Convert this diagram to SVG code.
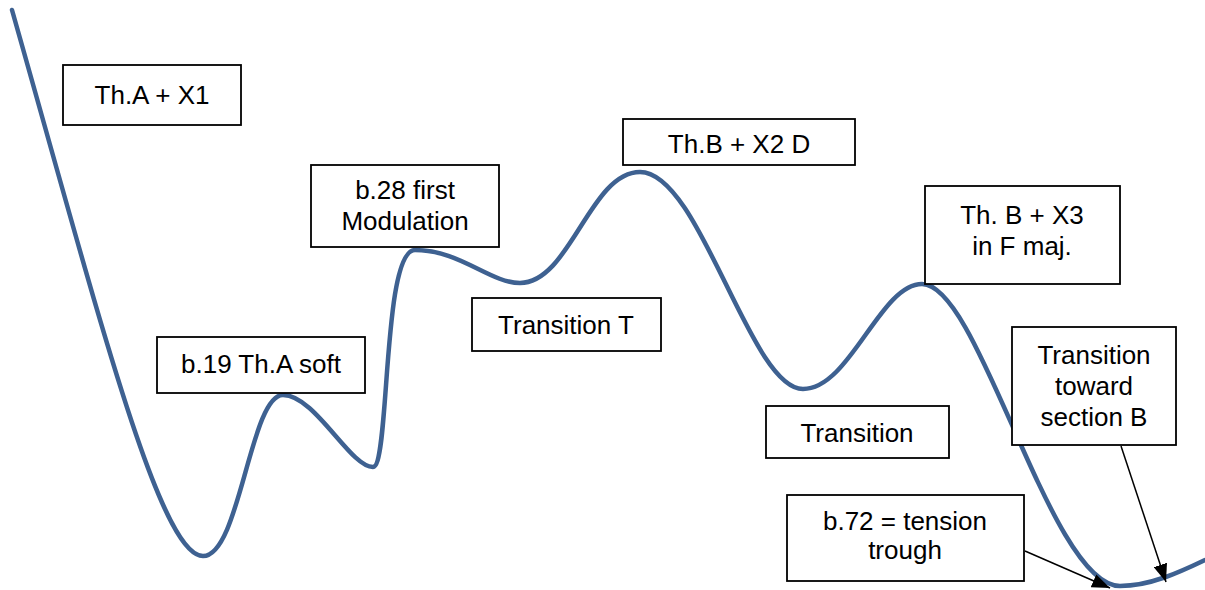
<svg xmlns="http://www.w3.org/2000/svg" width="1205" height="590" viewBox="0 0 1205 590">
<style>
.box{fill:#fff;stroke:#000;stroke-width:1.8}
.t{font-family:"Liberation Sans",Arial,sans-serif;font-size:26px;fill:#000;text-anchor:middle}
.curve{fill:none;stroke:#3E6191;stroke-width:4.5;stroke-linecap:round}
.arr{stroke:#000;stroke-width:1.5;fill:none}
</style>
<defs>
<marker id="ah2" viewBox="0 0 18 14" refX="18" refY="7" markerWidth="18" markerHeight="14" markerUnits="userSpaceOnUse" orient="auto">
<path d="M0,0 L18,7 L0,14 z" fill="#000"/>
</marker>
</defs>
<rect width="1205" height="590" fill="#fff"/>
<g id="curve">
<path class="curve" d="M12,10 C100,320 160,556 203,556 C240,556 250,395 283,395 C315,395 350,467 373,467 C390,467 382,250 415,250 C460,250 490,283 520,283 C570,283 590,172 640,172 C700,172 750,389 803,389 C850,389 880,284 922,284 C980,284 1050,586 1120,586 C1150,586 1180,572 1205,560"/>
</g>
<g id="connectors">
<line class="arr" x1="1025" y1="551" x2="1110" y2="588" marker-end="url(#ah2)"/>
<line class="arr" x1="1121" y1="446" x2="1166" y2="582" marker-end="url(#ah2)"/>
</g>
<g id="n1"><rect class="box" x="63" y="65" width="178" height="60"/><text class="t" x="152" y="104">Th.A + X1</text></g>
<g id="n2"><rect class="box" x="157" y="337" width="208" height="56"/><text class="t" x="261" y="373">b.19 Th.A soft</text></g>
<g id="n3"><rect class="box" x="311" y="165" width="188" height="82"/><text class="t" x="405" y="199">b.28 first</text><text class="t" x="405" y="230">Modulation</text></g>
<g id="n4"><rect class="box" x="472" y="298" width="189" height="53"/><text class="t" x="566" y="334">Transition T</text></g>
<g id="n5"><rect class="box" x="623" y="119" width="232" height="46"/><text class="t" x="739" y="153">Th.B + X2 D</text></g>
<g id="n6"><rect class="box" x="925" y="186" width="195" height="98"/><text class="t" x="1022" y="224">Th. B + X3</text><text class="t" x="1022" y="255">in F maj.</text></g>
<g id="n7"><rect class="box" x="766" y="406" width="183" height="52"/><text class="t" x="857" y="442">Transition</text></g>
<g id="n8"><rect class="box" x="1012" y="327" width="164" height="118"/><text class="t" x="1094" y="364">Transition</text><text class="t" x="1094" y="395">toward</text><text class="t" x="1094" y="426">section B</text></g>
<g id="n9"><rect class="box" x="787" y="495" width="237" height="86"/><text class="t" x="905" y="530">b.72 = tension</text><text class="t" x="905" y="559">trough</text></g>
</svg>
